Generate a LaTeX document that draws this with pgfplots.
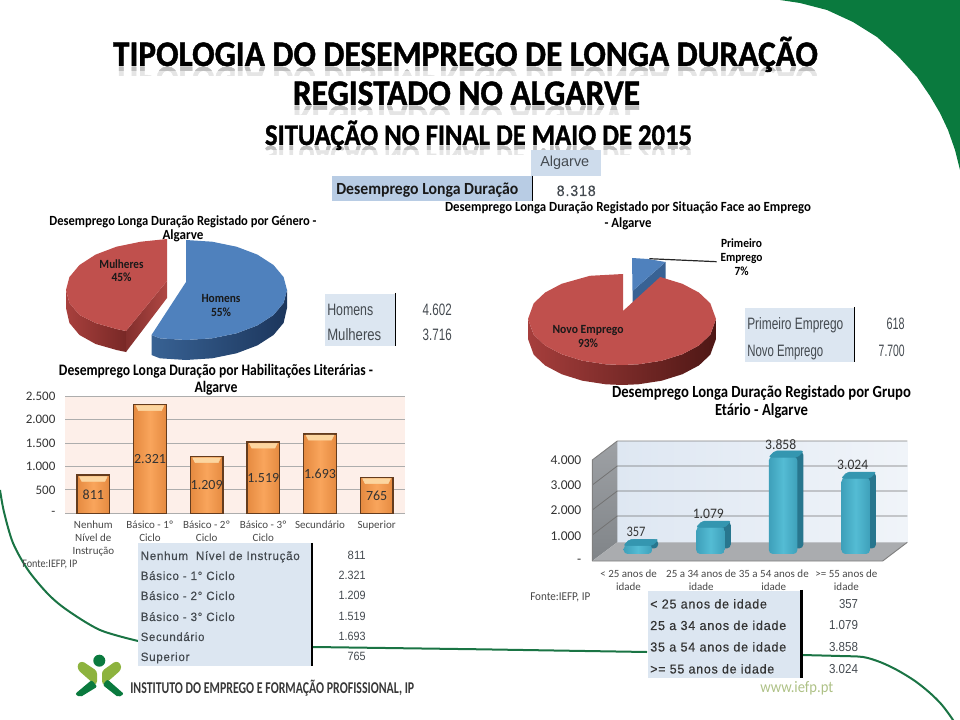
\documentclass[border=0pt]{standalone}
\usepackage{fontspec}
\usepackage{graphicx}
\usepackage{pgfplots}
\pgfplotsset{compat=1.18}
\setmainfont{Carlito}
\newfontfamily\tb[LetterSpace=6,FakeBold=0.3]{Liberation Sans}
\newfontfamily\tn{Liberation Sans}
\newfontfamily\ttlf[UprightFont=* Bold,FakeBold=1.2]{Carlito}
\newcommand\fpx[1]{\fontsize{\fpeval{#1*0.75}}{\fpeval{#1*0.9}}\selectfont}
\newcommand\fitx[3]{\resizebox{\fpeval{#1*0.75}pt}{\height}{\fpx{#2}#3}}
% [colour]{x}{baseline}{width}{size}{text}
\newcommand\Lt[6][black]{\node[inner sep=0pt,anchor=base west,text=#1] at (#2,#3) {\fitx{#4}{#5}{#6}};}
\newcommand\Rt[6][black]{\node[inner sep=0pt,anchor=base east,text=#1] at (#2,#3) {\fitx{#4}{#5}{#6}};}
\newcommand\Ct[6][black]{\node[inner sep=0pt,anchor=base,text=#1] at (#2,#3) {\fitx{#4}{#5}{#6}};}
\newcommand\Ttl[5]{%
 \begin{scope}\clip (0,#2) rectangle (960,#2+10);
 \node[inner sep=0pt,anchor=base,text=black!10] at (#1,#2+1) {\scalebox{1}[-1]{\fitx{#3}{#4}{\ttlf #5}}};\end{scope}
 \begin{scope}\clip (0,#2) rectangle (960,#2+5);
 \node[inner sep=0pt,anchor=base,text=black!25] at (#1,#2+1) {\scalebox{1}[-1]{\fitx{#3}{#4}{\ttlf #5}}};\end{scope}
 \Ct{#1}{#2}{#3}{#4}{\ttlf #5}}
\definecolor{gr}{HTML}{0A7A3E}
\definecolor{gl}{HTML}{1A7444}
\definecolor{tbA}{HTML}{DCE6F1}
\definecolor{tbB}{HTML}{B8CCE4}
\definecolor{txt}{HTML}{444A50}
\definecolor{orng}{HTML}{F9A55C}
\definecolor{orngD}{HTML}{E58A40}
\definecolor{ocapc}{RGB}{252,214,160}
\definecolor{tcapc}{RGB}{52,150,176}
\definecolor{bluT}{RGB}{79,129,189}
\definecolor{bluA}{RGB}{56,98,148}
\definecolor{bluB}{RGB}{28,54,92}
\definecolor{redT}{RGB}{192,80,77}
\definecolor{redA}{RGB}{168,64,61}
\definecolor{redB}{RGB}{120,40,38}
\definecolor{redC}{RGB}{130,46,44}
\definecolor{redD}{RGB}{176,72,68}
\definecolor{redE}{RGB}{166,62,60}
\definecolor{redF}{RGB}{78,23,21}
\definecolor{wallA}{RGB}{222,231,242}
\definecolor{wallB}{RGB}{240,244,249}
\definecolor{sideA}{RGB}{158,161,165}
\definecolor{sideB}{RGB}{128,132,136}
\definecolor{floorc}{RGB}{170,172,175}
\definecolor{pinkbg}{RGB}{253,239,233}
\definecolor{obrd}{RGB}{100,60,30}
\definecolor{tealS}{RGB}{40,118,142}
\definecolor{tealA}{RGB}{62,160,186}
\definecolor{tealB}{RGB}{84,188,212}
\pgfdeclareplotmark{ocap}{\fill[ocapc] (-10.4pt,-1pt)--(10.4pt,-1pt)--(8.6pt,-4.6pt)--(-8.6pt,-4.6pt)--cycle;}
\pgfdeclareplotmark{tcap}{\fill[tcapc,rounded corners=1.5pt] (-10.7pt,-.5pt)--(10.7pt,-.5pt)--(15.2pt,4.2pt)--(-6.2pt,4.2pt)--cycle;}
\pgfplotsset{obar/.style={ybar,bar width=24.5pt,bar shift=0pt,left color=orngD,right color=orngD,middle color=orng,draw=obrd,line width=1.2pt},
 tbar/.style={ybar,bar width=21.4pt,bar shift=0pt,xshift=7pt,yshift=5.25pt,draw=none,rounded corners=3pt,left color=tealA,right color=tealA,middle color=tealB}}
\begin{document}
\begin{tikzpicture}
\clip (0,0) rectangle (720pt,540pt);
\begin{axis}[at={(0pt,0pt)},anchor=south west,scale only axis,width=720pt,height=540pt,
 xmin=0,xmax=960,ymin=0,ymax=720,y dir=reverse,hide axis,clip=false,no markers]
% decoration
\addplot[fill=gr,draw=none] coordinates {(780,0)(800,3)(827,10)(853,22)(877,37)(898,56)(917,77)(930,96)(940,113)(948,130)(955,150)(960,170)(960,0)} --cycle;
\addplot[gl,line width=1.5pt,smooth] coordinates {(0,490)(4,512)(13,543)(28,570)(48,594)(67,610)(100,630)(138,641)};
\addplot[gl,line width=1.5pt] coordinates {(313,647)(480,649.3)(647,652)};
\addplot[gl,line width=1.5pt,smooth] coordinates {(801.7,655)(840,656)(863,657)(880,662)(897,670)(915,681)(930,693)(942,705)(953,720)(958,730)};
% pie 1 : Homens 55
\addplot[draw=none,left color=bluA,right color=bluB] coordinates {(287,290)(283.6,302.9)(273.5,315)(257.4,325.4)(236.5,333.3)(212.1,338.3)(186,340)(159.9,338.3)(151.5,335)(151.5,355)(159.9,358.3)(186,360)(212.1,358.3)(236.5,353.3)(257.4,345.4)(273.5,335)(283.6,322.9)(287,308)} --cycle;
\addplot[draw=none,fill=bluT] coordinates {(186,240)(212.1,241.7)(236.5,246.7)(257.4,254.6)(273.5,265)(283.6,277.1)(287,290)(283.6,302.9)(273.5,315)(257.4,325.4)(236.5,333.3)(212.1,338.3)(186,340)(159.9,338.3)(151.5,335)(186,282)} --cycle;
% pie 1 : Mulheres 45
\addplot[draw=none,left color=redA,right color=redB] coordinates {(66,290)(69.4,302.9)(79.5,315)(95.6,323)(116.5,329)(126,331)(126,352)(116.5,350)(95.6,344)(79.5,335)(69.4,322.9)(66,308)} --cycle;
\addplot[draw=none,left color=redC,right color=redD] coordinates {(126,331)(167,281)(167,298)(126,352)} --cycle;
\addplot[draw=none,fill=redT] coordinates {(167,239)(140.9,241.7)(116.5,246.7)(95.6,254.6)(79.5,265)(69.4,277.1)(66,290)(69.4,302.9)(79.5,315)(95.6,323)(116.5,329)(126,331)(167,281)} --cycle;
% pie 2 : Primeiro Emprego 7
\addplot[draw=none,fill=bluA] coordinates {(665.5,262)(665.5,279)(632.5,303)(632.5,291)} --cycle;
\addplot[draw=none,fill=bluT] coordinates {(632,258)(648,259)(665.5,262)(632.5,291)} --cycle;
% pie 2 : Novo Emprego 93
\addplot[draw=none,left color=redE,right color=redF] coordinates {(716,319)(710.3,334.7)(699,345.4)(682.4,354.2)(661.7,360.7)(638.3,364.3)(622,365)(605.7,364.3)(582.3,360.7)(561.6,354.2)(545,345.4)(533.7,334.7)(528,319)(528,339)(533.7,354.7)(545,365.4)(561.6,374.2)(582.3,380.7)(605.7,384.3)(622,385)(638.3,384.3)(661.7,380.7)(682.4,374.2)(699,365.4)(710.3,354.7)(716,339)} --cycle;
\addplot[draw=none,fill=redT] coordinates {(660.2,277)(682.4,283.8)(699,292.6)(710.3,303.3)(716,319)(710.3,334.7)(699,345.4)(682.4,354.2)(661.7,360.7)(638.3,364.3)(622,365)(605.7,364.3)(582.3,360.7)(561.6,354.2)(545,345.4)(533.7,334.7)(528,319)(533.7,303.3)(545,292.6)(561.6,283.8)(589.9,275.8)(623,274)(623,311)} --cycle;
\addplot[black!85,line width=.9pt] coordinates {(649.3,258.7)(716.7,261.7)};
% 3-D walls
\addplot[draw=none,left color=wallA,right color=wallB] coordinates {(617.3,441)(907.3,441)(907.3,542.3)(617.3,542.3)} --cycle;
\addplot[draw=none,top color=sideA,bottom color=sideB] coordinates {(592.3,460)(617.3,441)(617.3,542.3)(592.3,561)} --cycle;
\addplot[draw=none,fill=floorc] coordinates {(592.3,561)(617.3,542.3)(907.3,542.3)(882.7,561)} --cycle;
\addplot[black!55,line width=.6pt] coordinates {(592.3,485)(617.3,466)(907.3,466)};
\addplot[black!55,line width=.6pt] coordinates {(592.3,510)(617.3,491)(907.3,491)};
\addplot[black!55,line width=.6pt] coordinates {(592.3,535)(617.3,516)(907.3,516)};
\addplot[black!50,line width=.7pt] coordinates {(592.3,561)(592.3,460)(617.3,441)(907.3,441)};
\addplot[black!50,line width=.7pt] coordinates {(592.3,561)(882.7,561)(907.3,542.3)};
\end{axis}
% ---- Habilitacoes
\begin{axis}[at={(48.75pt,155pt)},anchor=south west,scale only axis,width=255pt,height=88pt,
 xmin=-.5,xmax=5.5,ymin=0,ymax=2500,clip=false,
 axis line style={draw=none},major tick length=0pt,
 axis background/.style={fill=pinkbg},
 ymajorgrids,grid style={black!32,line width=.6pt},
 ytick={0,500,1000,1500,2000,2500},yticklabels={-,500,{1.000},{1.500},{2.000},{2.500}},
 yticklabel style={font=\fpx{13},text=black!80,inner sep=0pt,xshift=-7pt},
 xtick={0,1,2,3,4,5},
 xticklabels={{Nenhum\\Nível de\\Instrução},{Básico - 1º\\Ciclo},{Básico - 2º\\Ciclo},{Básico - 3º\\Ciclo},{Secundário},{Superior}},
 xticklabel style={font=\fpx{11},text=black!72,align=center,inner sep=0pt,yshift=-5.5pt}]
\addplot[obar] coordinates {(0,811)};
\addplot[obar] coordinates {(1,2321)};
\addplot[obar] coordinates {(2,1209)};
\addplot[obar] coordinates {(3,1519)};
\addplot[obar] coordinates {(4,1693)};
\addplot[obar] coordinates {(5,765)};
\addplot[only marks,mark=ocap] coordinates {(0,811)(1,2321)(2,1209)(3,1519)(4,1693)(5,765)};
\node[font=\fpx{14},text=black!80] at (axis cs:0,405) {811};
\node[font=\fpx{14},text=black!80] at (axis cs:1,1160) {2.321};
\node[font=\fpx{14},text=black!80] at (axis cs:2,605) {1.209};
\node[font=\fpx{14},text=black!80] at (axis cs:3,760) {1.519};
\node[font=\fpx{14},text=black!80] at (axis cs:4,846) {1.693};
\node[font=\fpx{14},text=black!80] at (axis cs:5,382) {765};
\end{axis}
% ---- Grupo etario
\begin{axis}[at={(444.2pt,119.25pt)},anchor=south west,scale only axis,width=217.8pt,height=75.75pt,
 xmin=-.5,xmax=3.5,ymin=0,ymax=4000,clip=false,
 axis line style={draw=none},major tick length=0pt,
 ytick={0,1000,2000,3000,4000},yticklabels={-,{1.000},{2.000},{3.000},{4.000}},
 yticklabel style={font=\fpx{13.5},text=black!80,inner sep=0pt,xshift=-8pt},
 xtick={0,1,2,3},
 xticklabels={{< 25 anos de\\idade},{25 a 34 anos de\\idade},{35 a 54 anos de\\idade},{>= 55 anos de\\idade}},
 xticklabel style={font=\fpx{11},text=black!72,align=center,inner sep=0pt,yshift=-6.5pt}]
\addplot[ybar,bar width=21.4pt,bar shift=0pt,xshift=11.5pt,yshift=9.4pt,draw=none,rounded corners=3pt,fill=tealS] coordinates {(0,357)(1,1079)(2,3858)(3,3024)};
\addplot[only marks,mark=tcap,xshift=7pt,yshift=5.25pt] coordinates {(0,357)(1,1079)(2,3858)(3,3024)};
\addplot[tbar] coordinates {(0,357)};
\addplot[tbar] coordinates {(1,1079)};
\addplot[tbar] coordinates {(2,3858)};
\addplot[tbar] coordinates {(3,3024)};
\end{axis}
% ---- text, tables, logo, in picture pixels
\begin{scope}[shift={(0,540pt)},x=0.75pt,y=-0.75pt]
\Ttl{465.5}{66}{705}{36}{TIPOLOGIA DO DESEMPREGO DE LONGA DURAÇÃO}
\Ttl{466.5}{105}{347}{36}{REGISTADO NO ALGARVE}
\Ttl{478.5}{145}{427}{30}{SITUAÇÃO NO FINAL DE MAIO DE 2015}
% top table
\fill[tbA!60!tbB] (531,150) rectangle (601,176);
\fill[tbB] (332,176) rectangle (532,201);
\draw[black,line width=1.4pt] (532.5,176) -- (532.5,201);
\Lt[txt]{540}{167}{49}{14.5}{\tn Algarve}
\Lt[black!90]{336}{194.5}{182}{17}{\bfseries Desemprego Longa Duração}
\Rt[txt]{596}{196}{39}{15}{\tb 8.318}
% chart titles
\Ct{183}{226}{267}{14}{\bfseries Desemprego Longa Duração Registado por Género -}
\Ct{183}{240}{41}{14}{\bfseries Algarve}
\Ct{628}{212}{366}{14}{\bfseries Desemprego Longa Duração Registado por Situação Face ao Emprego}
\Ct{628}{228}{47}{14}{\bfseries - Algarve}
\Ct{216}{376}{314}{16}{\bfseries Desemprego Longa Duração por Habilitações Literárias -}
\Ct{216}{393}{43}{16}{\bfseries Algarve}
\Ct{761.5}{398}{299}{17}{\bfseries Desemprego Longa Duração Registado por Grupo}
\Ct{761.5}{416}{93}{17}{\bfseries Etário - Algarve}
% pie labels
\Ct[black!90]{121.5}{269}{44}{12.5}{\bfseries Mulheres}
\Ct[black!90]{121.5}{282}{20}{12.5}{\bfseries 45\%}
\Ct[black!90]{221}{303}{39}{12.5}{\bfseries Homens}
\Ct[black!90]{221}{317}{20}{12.5}{\bfseries 55\%}
\Ct[black!90]{588}{334}{71}{12.5}{\bfseries Novo Emprego}
\Ct[black!90]{588}{348}{20}{12.5}{\bfseries 93\%}
\Ct{741.5}{248}{41}{12.5}{\bfseries Primeiro}
\Ct{741.5}{262}{42}{12.5}{\bfseries Emprego}
\Ct{741.5}{276}{14}{12.5}{\bfseries 7\%}
% chart 2 labels
\Ct[black!80]{636}{537}{19}{14.5}{357}
\Ct[black!80]{708.3}{519}{31}{14.5}{1.079}
\Ct[black!80]{780.7}{450}{31}{14.5}{3.858}
\Ct[black!80]{852.7}{470}{31}{14.5}{3.024}
% sources
\Lt[black!72]{22}{568}{55}{11.5}{Fonte:IEFP, IP}
\Lt[black!72]{530}{601}{60}{12}{Fonte:IEFP, IP}
% Homens table
\fill[tbA] (325,294) rectangle (395,346);
\draw[black,line width=1.2pt] (395.5,293) -- (395.5,346);
\Lt[txt]{327}{315.5}{46}{16.5}{\tn Homens}
\Lt[txt]{327}{341}{54}{16.5}{\tn Mulheres}
\Rt[txt]{452}{315.5}{29}{16.5}{\tn 4.602}
\Rt[txt]{452}{341}{29}{16.5}{\tn 3.716}
% Emprego table
\fill[tbA] (745,308) rectangle (853.5,362);
\draw[black,line width=1.2pt] (854.5,307) -- (854.5,362);
\Lt[txt]{747}{330}{96}{16.5}{\tn Primeiro Emprego}
\Lt[txt]{747}{356.5}{76}{16.5}{\tn Novo Emprego}
\Rt[txt]{905}{330}{18}{16.5}{\tn 618}
\Rt[txt]{905}{356.5}{26}{16.5}{\tn 7.700}
% Habilitacoes table
\fill[tbA] (138.3,543.3) rectangle (310.7,666);
\draw[black,line width=1.9pt] (312,543) -- (312,666);
\Lt[txt]{140.5}{560}{159}{12}{\tb Nenhum\ \ Nível de Instrução}
\Lt[txt]{140.5}{580}{94}{12}{\tb Básico - 1° Ciclo}
\Lt[txt]{140.5}{600}{94}{12}{\tb Básico - 2° Ciclo}
\Lt[txt]{140.5}{621}{94}{12}{\tb Básico - 3° Ciclo}
\Lt[txt]{140.5}{641}{63.7}{12}{\tb Secundário}
\Lt[txt]{140.5}{661}{48.7}{12}{\tb Superior}
\Rt[txt]{366}{560}{18}{12}{\tn 811}
\Rt[txt]{366}{580}{27}{12}{\tn 2.321}
\Rt[txt]{366}{600}{27}{12}{\tn 1.209}
\Rt[txt]{366}{621}{27}{12}{\tn 1.519}
\Rt[txt]{366}{641}{27}{12}{\tn 1.693}
\Rt[txt]{366}{661}{18}{12}{\tn 765}
% Etario table
\fill[tbA] (647.7,591) rectangle (800.7,677.7);
\draw[black,line width=1.9pt] (801.5,590) -- (801.5,677.7);
\Lt[black!80]{650}{608.5}{116.7}{13}{\tb < 25 anos de idade}
\Lt[black!80]{650}{630}{136}{13}{\tb 25 a 34 anos de idade}
\Lt[black!80]{650}{651.5}{136}{13}{\tb 35 a 54 anos de idade}
\Lt[black!80]{650}{673.5}{124}{13}{\tb >= 55 anos de idade}
\Rt[txt]{858.3}{608.5}{19}{13}{\tn 357}
\Rt[txt]{858.3}{630}{29}{13}{\tn 1.079}
\Rt[txt]{858.3}{651.5}{29}{13}{\tn 3.858}
\Rt[txt]{858.3}{673.5}{29}{13}{\tn 3.024}
% logo
\definecolor{lg}{HTML}{8DB33E}
\fill[gr] (99.3,660.7) circle (6);
\fill[lg,rounded corners=2pt] (77.5,664)--(82,661)--(97,671)--(97,684)--(94,684)--(78,670)--cycle;
\fill[lg,rounded corners=2pt] (121,664)--(116,661)--(102,671)--(102,684)--(105,684)--(121,670)--cycle;
\fill[gr,rounded corners=1.5pt] (75,694)--(91.7,680)--(97.3,686.7)--(80,697.3)--cycle;
\fill[gr,rounded corners=1.5pt] (102.7,685)--(107.3,679.3)--(124,694)--(118.3,697.3)--cycle;
\Lt[black!78]{130}{694}{284}{16.5}{\bfseries INSTITUTO DO EMPREGO E FORMAÇÃO PROFISSIONAL, IP}
\Lt[lg!85!black!60!white]{760}{692.5}{73}{16}{www.iefp.pt}
\end{scope}
\end{tikzpicture}
\end{document}
